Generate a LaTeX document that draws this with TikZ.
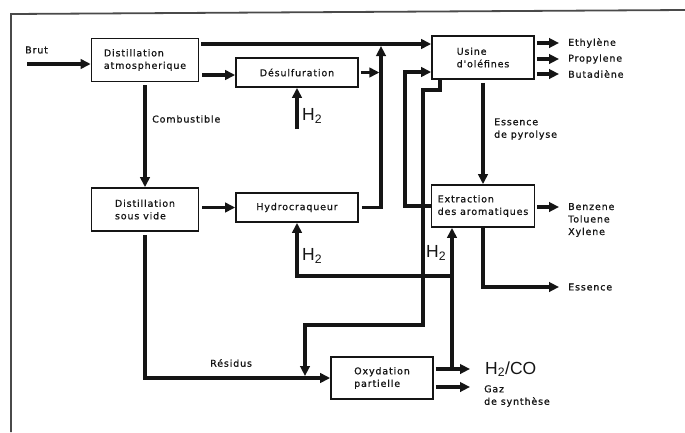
\documentclass[tikz,border=0pt]{standalone}
\usepackage{fontspec}
\newfontfamily\flowfont{DejaVu Sans}[LetterSpace=9, FakeBold=0.8]
\newfontfamily\gasfont{Liberation Sans}
\usetikzlibrary{arrows.meta,calc,positioning}
\definecolor{ink}{HTML}{151515}
\definecolor{rule}{HTML}{4A4A4A}
\tikzset{
  every node/.style={font=\flowfont\fontsize{9.5}{12.5}\selectfont, text=ink, inner sep=0pt},
  plant/.style={draw=ink, line width=1.7pt, fill=white, align=left,
                minimum width=105pt, minimum height=43pt},
  thin/.style={plant, minimum width=122pt, minimum height=29pt},
  arr/.style={-{Triangle[length=10pt,width=9.5pt]}, draw=ink, line width=3.2pt},
  lab/.style={anchor=west, align=left},
  gas/.style={font=\gasfont\fontsize{17.5}{20}\selectfont, anchor=west},
  frame/.style={draw=rule, line width=1.8pt},
}
\begin{document}
\begin{tikzpicture}[x=1pt, y=-1pt]
% ---- page (px) ----------------------------------------------------------------
\useasboundingbox (0,0) rectangle (685,432);
\fill[white] (0,0) rectangle (685,432);
\draw[frame] (11,432) -- (11,14) -- (685,10);

% ---- grid ---------------------------------------------------------------------
\def\xA{145} \def\xB{297} \def\xC{483} \def\xO{559}

% ---- units --------------------------------------------------------------------
\node[plant, minimum width=107pt] (datm) at (\xA,60)    {Distillation\\atmospherique};
\node[thin]                      (desulf) at (\xB,72.5) {Désulfuration};
\node[plant, minimum width=102pt] (usine) at (\xC,57.5) {Usine\\d'oléfines};
\node[plant, minimum width=107pt] (dsv)   at (\xA,209.5) {Distillation\\sous vide};
\node[thin]                      (hydro)  at (\xB,207.5) {Hydrocraqueur};
\node[plant, minimum width=103pt, minimum height=42pt] (extr) at (\xC,206) {Extraction\\des aromatiques};
\node[plant, minimum width=102pt, minimum height=42pt] (oxy)  at (382,378) {Oxydation\\partielle};

% ---- labels -------------------------------------------------------------------
\node[lab] (brut) at (25,50)   {Brut};
\node[lab] (comb) at (152,119) {Combustible};
\node[lab] (resid) at (210,363) {Résidus};
\node[lab] (pyro) at (494,129) {Essence\\de pyrolyse};
\node[lab] (eth) at (568,43)  {Ethylène};
\node[lab] (pro) at (568,59)  {Propylene};
\node[lab] (but) at (568,74)  {Butadiène};
\node[lab] (btx) at (568,220) {Benzene\\Toluene\\Xylene};
\node[lab] (ess) at (568,287) {Essence};
\node[gas] (hco) at (485,369) {H\textsubscript{2}/CO};
\node[lab] (syn) at (484,396) {Gaz\\de synthèse};
\node[gas] (hdes) at (302,116) {H\textsubscript{2}};
\node[gas] (hhyd) at (302,256) {H\textsubscript{2}};
\node[gas] (hext) at (426,253) {H\textsubscript{2}};

% ---- free ends and bends --------------------------------------------------------
\coordinate (feed)  at (27,64);
\coordinate (hin)   at (297,129);
\coordinate (hup)   at (381,46);
\coordinate (rec)   at (405,72);
\coordinate (ub)    at (440,90);
\coordinate (uc)    at (423,325);
\coordinate (jr)    at (305,376);
\coordinate (hsp)   at (452,369);
\coordinate (hcoin) at (470,369);
\coordinate (synin) at (470,387);
\coordinate (btxin) at (\xO,207);
\coordinate (essin) at (\xO,287);

% ---- edges: crude train -------------------------------------------------------
\draw[arr] (feed) -- (feed -| datm.west);
\draw[arr] ([xshift=2pt]datm.east |- 0,44) -- (usine.west |- 0,44);
\draw[arr] ([xshift=3pt]datm.east |- 0,75) -- (desulf.west |- 0,75);
\draw[arr] (hin) -- (desulf.south);
\draw[arr] ([yshift=-3pt]datm.south) -- (dsv.north);
\draw[arr] ([xshift=3pt]dsv.east |- hydro) -- (hydro.west);
\draw[arr] ([xshift=3pt]hydro.east) -| (hup);
\draw[arr] ([xshift=2pt]desulf.east) -- ([xshift=-1.6pt]desulf.east -| hup);

% ---- edges: olefins and aromatics ---------------------------------------------
\draw[arr] (extr.west) -| (rec) -- (usine.west |- rec);
\draw[arr] (usine.south -| ub) -- (ub) -| (uc) -| (jr);
\draw[arr] ([yshift=-3pt]usine.south) -- (extr.north);
\foreach \p in {eth,pro,but}
  \draw[arr] ([xshift=2pt]usine.east |- \p) -- ([xshift=-9pt]\p.west);
\draw[arr] ([xshift=2pt]extr.east |- btxin) -- (btxin);
\draw[arr] (extr.south) |- (essin);

% ---- edges: residue and hydrogen ----------------------------------------------
\draw[arr] ([yshift=-3pt]dsv.south) |- (oxy.west);
\draw[arr] ([xshift=2pt]oxy.east |- hcoin) -- (hcoin);
\draw[arr] ([xshift=2pt]oxy.east |- synin) -- (synin);
\draw[arr] (hsp) -- (hsp |- extr.south);
\draw[arr] (hsp |- 0,276) -| (hydro.south);
\end{tikzpicture}
\end{document}
